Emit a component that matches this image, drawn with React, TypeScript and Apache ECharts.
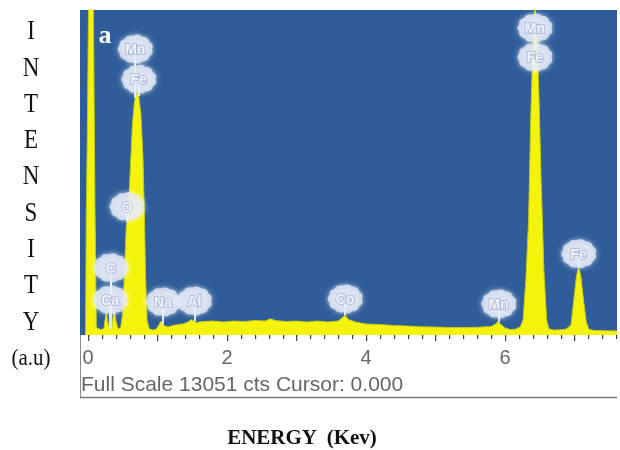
import React, { useEffect, useRef } from "react";
import * as echarts from "echarts";

// EDS spectrum: energy (keV) vs counts, full scale 13051 cts
const FULL_SCALE = 13051;
const E_MIN = -0.115;
const E_MAX = 7.612;

const energies = [
  -0.035, -0.025, -0.01, 0.01, 0.075, 0.1, 0.12,
  0.13, 0.16, 0.2, 0.23, 0.25, 0.265, 0.28, 0.31, 0.34, 0.36, 0.38, 0.4, 0.43, 0.47,
  0.5, 0.52, 0.55, 0.58, 0.61, 0.64, 0.67, 0.7, 0.73, 0.76, 0.79, 0.81, 0.83, 0.85,
  0.88, 0.93, 0.98, 1.02, 1.05, 1.09, 1.15, 1.22, 1.3, 1.38, 1.44, 1.49, 1.55, 1.65,
  1.8, 1.95, 2.1, 2.25, 2.4, 2.55, 2.62, 2.7, 2.85, 3.0, 3.15, 3.3, 3.45, 3.6, 3.66,
  3.7, 3.75, 3.85, 4.0, 4.2, 4.4, 4.6, 4.8, 5.0, 5.2, 5.4, 5.6, 5.8, 5.87, 5.9, 5.94,
  6.0, 6.08, 6.15, 6.22, 6.26, 6.3, 6.34, 6.37, 6.4, 6.43, 6.46, 6.49, 6.52, 6.56,
  6.6, 6.63, 6.7, 6.8, 6.88, 6.95, 6.99, 7.03, 7.06, 7.09, 7.13, 7.17, 7.21, 7.3,
  7.45, 7.612,
];
const counts = [
  0, 4800, 8000, 14000, 14000, 5200, 300,
  300, 240, 220, 280, 700, 950, 600, 250, 250, 700, 1000, 600, 250, 300,
  900, 2200, 4300, 5000, 6700, 8500, 9400, 9750, 9600, 8900, 7200, 5000, 2200, 600,
  250, 200, 230, 400, 560, 380, 320, 380, 420, 450, 520, 620, 500, 540,
  560, 520, 560, 540, 580, 560, 650, 580, 540, 560, 520, 560, 520, 560, 700,
  780, 620, 520, 440, 420, 380, 360, 330, 320, 300, 300, 310, 340, 450, 540, 430,
  280, 220, 230, 330, 600, 2200, 4600, 8600, 11500, 13300, 11900, 9500, 6200, 2600,
  600, 250, 200, 210, 240, 400, 1400, 2400, 2700, 2400, 1400, 520, 220, 180,
  170, 160,
];

// Element markers: name, energy of the marker, height of the marker (cts)
const peakNames = ["Mn", "Fe", "Mn", "Fe", "O", "C", "Ca", "Na", "Al", "Co", "Mn", "Fe"];
const peakEnergies = [6.43, 6.43, 0.68, 0.73, 0.56, 0.33, 0.32, 1.08, 1.53, 3.7, 5.91, 7.06];
const badgeLevels = [12326, 11158, 11480, 10271, 5156, 2699, 1410, 1329, 1370, 1450, 1249, 3263];

// Axis ticks (keV)
const majorTicks = [0, 1, 2, 3, 4, 5, 6, 7];
const tickLabels = [0, 2, 4, 6];
const minorTicks = [
  0.2, 0.4, 0.6, 0.8, 1.2, 1.4, 1.6, 1.8, 2.2, 2.4, 2.6, 2.8, 3.2, 3.4, 3.6,
  3.8, 4.2, 4.4, 4.6, 4.8, 5.2, 5.4, 5.6, 5.8, 6.2, 6.4, 6.6, 6.8, 7.2, 7.4, 7.6,
];

const yTitle = ["I", "N", "T", "E", "N", "S", "I", "T", "Y", "(a.u)"];
const xTitle = "ENERGY  (Kev)";
const panelTag = "a";
const statusText = "Full Scale 13051 cts Cursor: 0.000";

const BLUE = "#2e5d99";
const YELLOW = "#f3f30c";

// Scalloped "cloud" outline used for the element markers
function cloudSymbol(n = 11, r = 10, bump = 1.2): string {
  let d = "";
  for (let i = 0; i <= n; i++) {
    const a = (i / n) * Math.PI * 2;
    const x = (Math.cos(a) * r).toFixed(2);
    const y = (Math.sin(a) * r).toFixed(2);
    if (i === 0) {
      d += `M${x} ${y}`;
    } else {
      const m = ((i - 0.5) / n) * Math.PI * 2;
      const cx = (Math.cos(m) * r * bump).toFixed(2);
      const cy = (Math.sin(m) * r * bump).toFixed(2);
      d += ` Q${cx} ${cy} ${x} ${y}`;
    }
  }
  return "path://" + d + " Z";
}

// Spectrum height at a given energy (between the listed points)
function levelAt(e: number): number {
  for (let i = 1; i < energies.length; i++) {
    if (energies[i] >= e) {
      const t = (e - energies[i - 1]) / (energies[i] - energies[i - 1]);
      return counts[i - 1] + t * (counts[i] - counts[i - 1]);
    }
  }
  return counts[counts.length - 1];
}

export default function App() {
  const ref = useRef<HTMLDivElement>(null);

  useEffect(() => {
    if (!ref.current) return;
    const chart = echarts.init(ref.current, null, { renderer: "svg" });

    const spectrum = energies.map((e, i) => [e, counts[i]]);

    const stems = peakEnergies
      .map((e, i) => {
        const base = levelAt(e);
        if (base >= badgeLevels[i]) return null;
        return [{ coord: [e, badgeLevels[i]] }, { coord: [e, base] }];
      })
      .filter(Boolean);

    const badges = peakEnergies.map((e, i) => ({
      name: peakNames[i],
      value: [e, badgeLevels[i]],
    }));

    const serif = "'Liberation Serif', 'Times New Roman', serif";
    const sans = "'Liberation Sans', Arial, sans-serif";

    const graphics: any[] = [];
    yTitle.forEach((t, i) => {
      graphics.push({
        id: "ytitle-" + i,
        type: "text",
        x: 31,
        y: 30 + i * 36.3,
        scaleY: t.length > 1 ? 1.1 : 1.22,
        style: {
          text: t,
          fontFamily: serif,
          fontSize: t.length > 1 ? 21 : 23,
          fill: "#111",
          align: "center",
          verticalAlign: "middle",
        },
      });
    });
    graphics.push(
      {
        id: "xtitle",
        type: "text",
        x: 302,
        y: 437,
        style: {
          text: xTitle,
          fontFamily: serif,
          fontWeight: "bold",
          fontSize: 21,
          fill: "#111",
          align: "center",
          verticalAlign: "middle",
        },
      },
      {
        id: "tag",
        type: "text",
        x: 105,
        y: 34,
        z: 10,
        style: {
          text: panelTag,
          fontFamily: serif,
          fontWeight: "bold",
          fontSize: 26,
          fill: "#ffffff",
          align: "center",
          verticalAlign: "middle",
        },
      },
      {
        id: "status",
        type: "text",
        x: 81,
        y: 383,
        style: {
          text: statusText,
          fontFamily: sans,
          fontSize: 21,
          fill: "#666",
          align: "left",
          verticalAlign: "middle",
        },
      },
      {
        id: "box-left",
        type: "line",
        shape: { x1: 80.5, y1: 335, x2: 80.5, y2: 397.5 },
        style: { stroke: "#8a8a8a", lineWidth: 1 },
      },
      {
        id: "box-bottom",
        type: "line",
        shape: { x1: 80, y1: 397.5, x2: 617, y2: 397.5 },
        style: { stroke: "#7a7a7a", lineWidth: 1.5 },
      }
    );

    chart.setOption({
      animation: false,
      grid: {
        left: 80,
        top: 10,
        right: 3,
        bottom: 115,
        show: true,
        backgroundColor: BLUE,
        borderWidth: 0,
      },
      xAxis: {
        type: "value",
        min: E_MIN,
        max: E_MAX,
        axisLine: { show: false },
        splitLine: { show: false },
        axisTick: { show: false },
        axisLabel: {
          show: true,
          customValues: tickLabels,
          fontFamily: sans,
          fontSize: 20,
          color: "#666",
          margin: 12,
        },
      },
      yAxis: {
        type: "value",
        min: 0,
        max: FULL_SCALE,
        show: false,
        splitLine: { show: false },
      },
      graphic: { elements: graphics },
      series: [
        {
          type: "line",
          data: spectrum,
          symbol: "none",
          showSymbol: false,
          clip: true,
          z: 2,
          lineStyle: { color: "#c6c914", width: 1 },
          areaStyle: { color: YELLOW, opacity: 1 },
          markLine: {
            silent: true,
            z: 3,
            symbol: ["none", "none"],
            label: { show: false },
            lineStyle: { color: "#dfe5f3", width: 2, type: "solid" },
            data: stems,
          },
        },
        {
          type: "scatter",
          data: badges,
          z: 6,
          symbol: cloudSymbol(),
          symbolSize: [35, 29],
          itemStyle: {
            color: "rgba(228,233,247,0.96)",
            shadowBlur: 5,
            shadowColor: "rgba(255,255,255,0.9)",
          },
          label: {
            show: true,
            position: "inside",
            formatter: "{b}",
            fontFamily: sans,
            fontWeight: "bold",
            fontSize: 14,
            color: "#ffffff",
            textBorderColor: "rgba(130,150,200,0.6)",
            textBorderWidth: 2,
          },
        },
      ],
    });

    // Tick marks under the energy axis, placed through the axis scale
    const px = (finder: any, v: number): number => {
      const r: any = chart.convertToPixel(finder, v);
      return Array.isArray(r) ? Number(r[0]) : Number(r);
    };
    const base = px({ yAxisIndex: 0 }, 0);
    const tick = (v: number, len: number, key: string) => {
      const x = Math.round(px({ xAxisIndex: 0 }, v)) + 0.5;
      return {
        id: key,
        type: "rect",
        z: 100,
        silent: true,
        shape: { x: x - 0.5, y: base, width: 1.2, height: len },
        style: { fill: "#3c3c3c" },
      };
    };
    const tickEls = [
      ...minorTicks.map((v, i) => tick(v, 4, "minor-" + i)),
      ...majorTicks.map((v, i) => tick(v, 6, "major-" + i)),
    ].filter((el) => isFinite(el.shape.x) && isFinite(el.shape.y));
    chart.setOption({ graphic: { elements: [...graphics, ...tickEls] } });

    return () => chart.dispose();
  }, []);

  return (
    <div
      ref={ref}
      style={{ position: "fixed", left: 0, top: 0, width: 620, height: 450 }}
    />
  );
}
